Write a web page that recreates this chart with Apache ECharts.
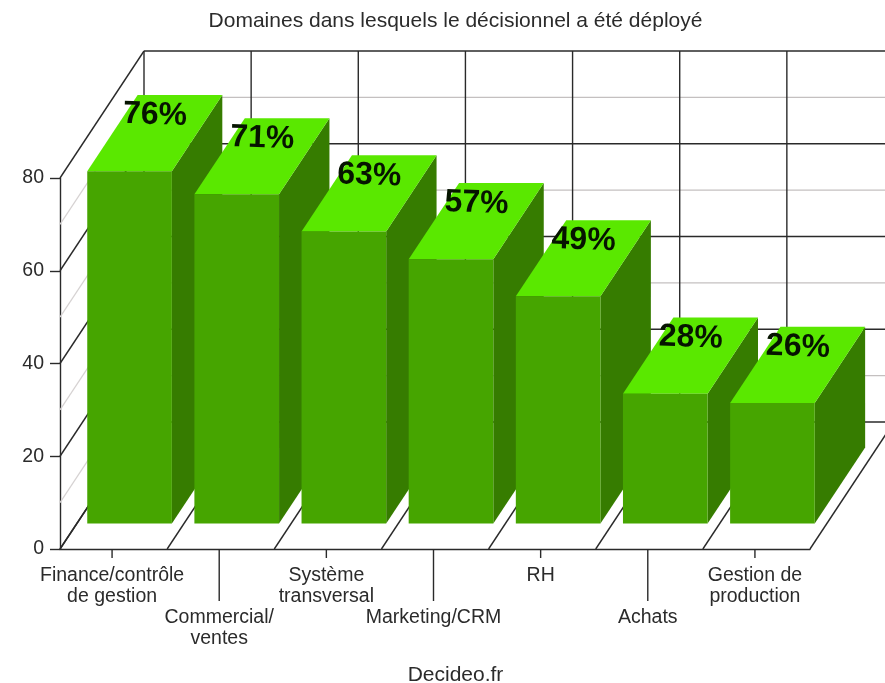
<!DOCTYPE html>
<html>
<head>
<meta charset="utf-8">
<style>
  html, body { margin: 0; padding: 0; background: #fff; }
  #chart { width: 885px; height: 683px; }
</style>
<script src="https://cdn.jsdelivr.net/npm/echarts@6/dist/echarts.min.js"></script>
</head>
<body>
<div id="chart"></div>
<script>
// data
var categories = ['Finance/contrôle\nde gestion', 'Commercial/\nventes', 'Système\ntransversal', 'Marketing/CRM', 'RH', 'Achats', 'Gestion de\nproduction'];
var values = [76, 71, 63, 57, 49, 28, 26];
var majorLevels = [0, 20, 40, 60, 80];
var minorLevels = [10, 30, 50, 70];

// fake 3d depth of the box, in pixels
var DEPTH_X = 84;
var DEPTH_Y = 127;
var LINE_DARK = '#2a2a2a';
var LINE_LIGHT = '#c4c0c0';
var TICK_SHIFT = -1.5; // ticks sit slightly left of the band centre

function line(x1, y1, x2, y2, color, width) {
  return {
    type: 'line',
    shape: { x1: x1, y1: y1, x2: x2, y2: y2 },
    style: { stroke: color, lineWidth: width }
  };
}

// walls, floor and the ticks under the axis
function renderFrame(params, api) {
  var children = [];
  var band = api.size([1, 0])[0];
  var origin = api.coord([0, 0]);
  var left = origin[0] - band / 2;
  var bottom = origin[1];
  var right = left + band * categories.length;

  function level(v, color, width, sideColor) {
    var y = api.coord([0, v])[1];
    children.push(line(left, y, left + DEPTH_X, y - DEPTH_Y, sideColor, width));
    children.push(line(left + DEPTH_X, y - DEPTH_Y, right + DEPTH_X, y - DEPTH_Y, color, width));
  }
  minorLevels.forEach(function (v) { level(v, LINE_LIGHT, 1.2, '#d6d2d2'); });
  majorLevels.forEach(function (v) { level(v, LINE_DARK, 1.4, LINE_DARK); });

  var top = api.coord([0, majorLevels[majorLevels.length - 1]])[1];
  for (var k = 0; k <= categories.length; k++) {
    var x = left + band * k;
    children.push(line(x, bottom, x + DEPTH_X, bottom - DEPTH_Y, LINE_DARK, 1.4));
    children.push(line(x + DEPTH_X, bottom - DEPTH_Y, x + DEPTH_X, top - DEPTH_Y, LINE_DARK, 1.4));
  }
  // every second label hangs lower, on a long tick
  categories.forEach(function (c, i) {
    var cx = api.coord([i, 0])[0] + TICK_SHIFT;
    children.push(line(cx, bottom, cx, bottom + (i % 2 === 1 ? 52 : 9), LINE_DARK, 1.4));
  });
  return { type: 'group', children: children };
}

function renderBar(params, api) {
  var i = api.value(0);
  var v = api.value(1);
  var base = api.coord([i, 0]);
  var head = api.coord([i, v]);
  var w = api.size([1, 0])[0] * 0.79;
  // bar sits from 20% to 80% of the box depth
  var x0 = base[0] - w / 2 + DEPTH_X * 0.2 - 0.8;
  var x1 = x0 + w;
  var yb = base[1] - DEPTH_Y * 0.2;
  var yt = head[1] - DEPTH_Y * 0.2;
  var dx = DEPTH_X * 0.6;
  var dy = DEPTH_Y * 0.6;
  return {
    type: 'group',
    children: [
      { type: 'polygon', shape: { points: [[x1, yb], [x1 + dx, yb - dy], [x1 + dx, yt - dy], [x1, yt]] }, style: { fill: '#367c00' } },
      { type: 'polygon', shape: { points: [[x0, yt], [x1, yt], [x1 + dx, yt - dy], [x0 + dx, yt - dy]] }, style: { fill: '#5ae800' } },
      { type: 'rect', shape: { x: x0, y: yt, width: w, height: yb - yt }, style: { fill: '#46a500' } }
    ]
  };
}

// percent labels go last so that the next bar never covers them
function renderValue(params, api) {
  var i = api.value(0);
  var v = api.value(1);
  var head = api.coord([i, v]);
  var w = api.size([1, 0])[0] * 0.79;
  return {
    type: 'text',
    x: head[0] - w / 2 + DEPTH_X * 0.2 + 67,
    y: head[1] - DEPTH_Y * 0.2 - 56,
    rotation: -0.035,
    style: {
      text: v + '%',
      fill: '#061400',
      font: 'bold 32px "Liberation Sans", Arial, sans-serif',
      textAlign: 'center',
      textVerticalAlign: 'middle'
    }
  };
}

var barData = values.map(function (v, i) { return [i, v]; });

var chart = echarts.init(document.getElementById('chart'), null, { renderer: 'canvas' });
chart.setOption({
  animation: false,
  backgroundColor: '#fff',
  textStyle: { fontFamily: '"Liberation Sans", Arial, sans-serif' },
  title: [
    {
      text: 'Domaines dans lesquels le décisionnel a été déployé',
      left: 450.5, top: 6, textAlign: 'center',
      textStyle: { fontSize: 21, fontWeight: 'normal', color: '#2b2b2b' }
    },
    {
      text: 'Decideo.fr',
      left: 450.5, top: 660, textAlign: 'center',
      textStyle: { fontSize: 21, fontWeight: 'normal', color: '#2b2b2b' }
    }
  ],
  grid: { left: 60, top: 178, width: 750, height: 371 },
  xAxis: {
    type: 'category',
    data: categories,
    axisLine: { lineStyle: { color: LINE_DARK, width: 1.4 } },
    axisTick: { show: false },
    axisLabel: {
      interval: 0,
      hideOverlap: false,
      margin: 16,
      fontSize: 19.5,
      lineHeight: 21,
      color: '#2b2b2b',
      padding: [0, 3, 0, 0],
      formatter: function (value, index) {
        return index % 2 === 1 ? '\n\n' + value : value;
      }
    }
  },
  yAxis: {
    type: 'value',
    min: 0,
    max: 80,
    interval: 20,
    splitLine: { show: false },
    axisLine: { show: true, lineStyle: { color: LINE_DARK, width: 1.4 } },
    axisTick: { show: true, length: 10, lineStyle: { color: LINE_DARK, width: 1.4 } },
    axisLabel: { margin: 16, fontSize: 19.5, color: '#2b2b2b' }
  },
  series: [
    { type: 'custom', z: 1, silent: true, clip: false, data: [0], renderItem: renderFrame, encode: { x: 0 } },
    { type: 'custom', z: 2, silent: true, clip: false, data: barData, renderItem: renderBar, encode: { x: 0, y: 1 } },
    { type: 'custom', z: 3, silent: true, clip: false, data: barData, renderItem: renderValue, encode: { x: 0, y: 1 } }
  ]
});
</script>
</body>
</html>
